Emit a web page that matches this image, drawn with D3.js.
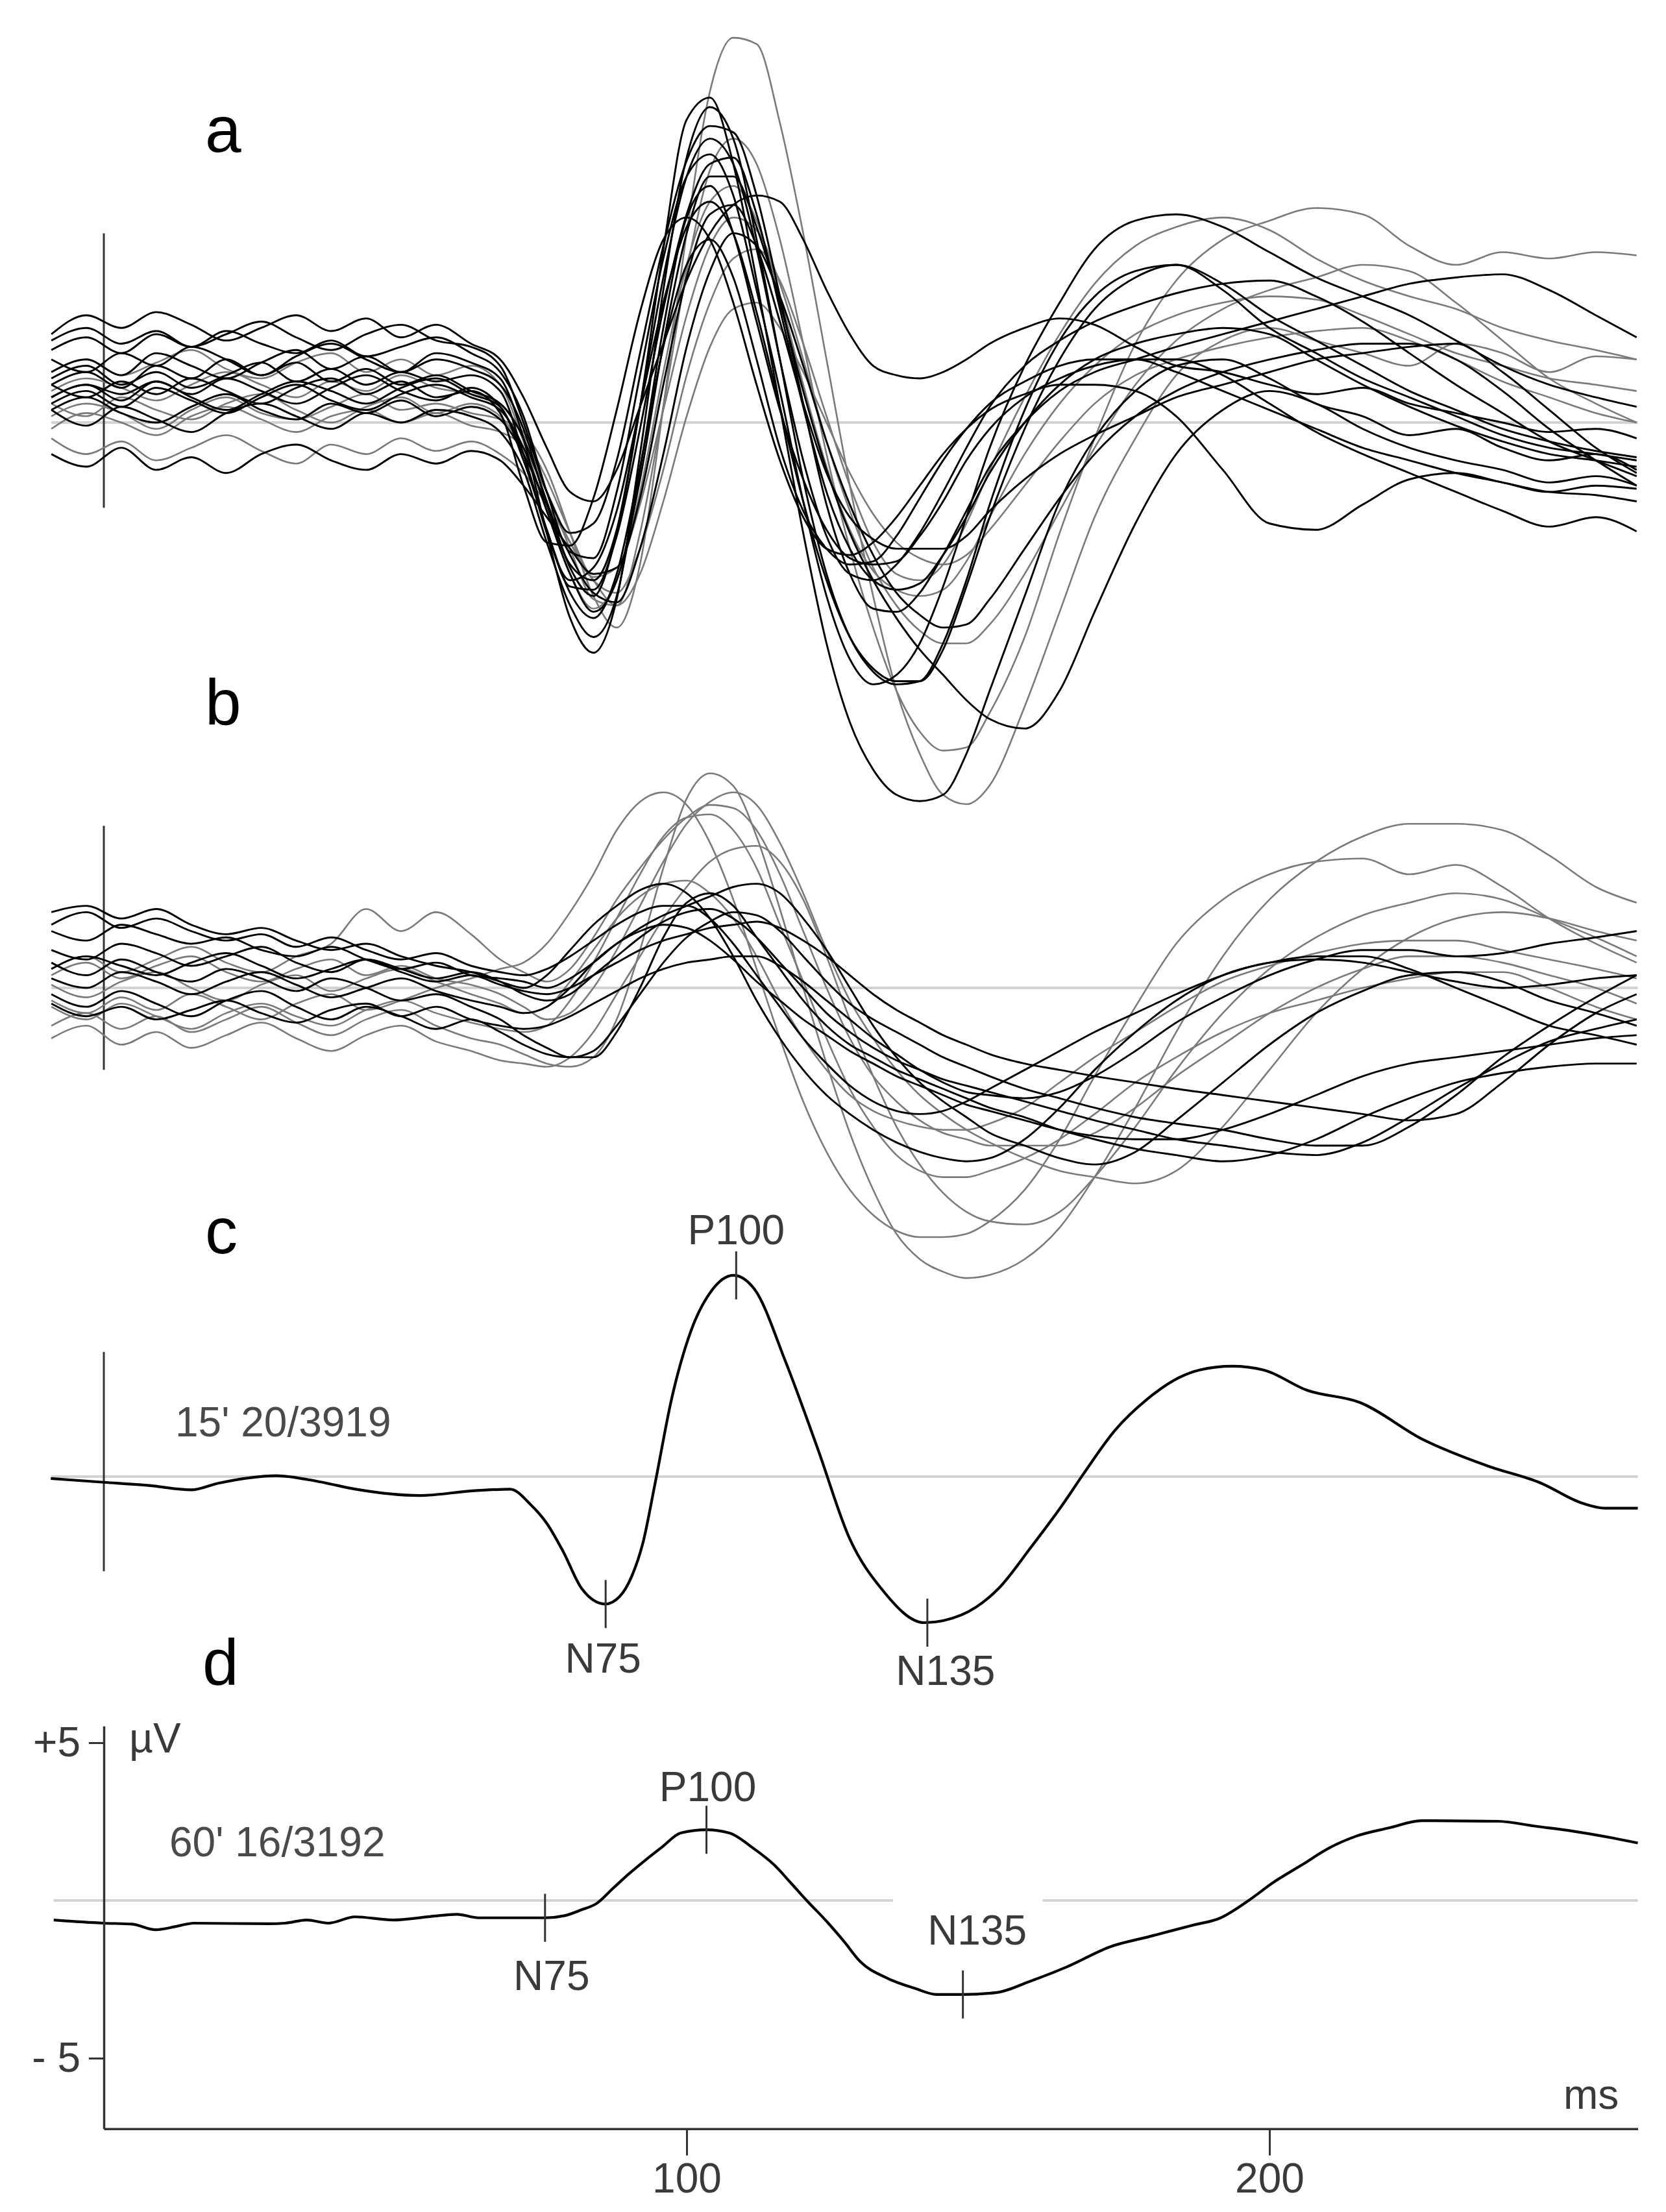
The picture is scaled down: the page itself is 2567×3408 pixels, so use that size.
<!DOCTYPE html>
<html><head><meta charset="utf-8">
<script src="https://cdn.jsdelivr.net/npm/d3@7"></script>
<style>body{margin:0;background:#fff}svg{display:block}</style>
</head><body>
<script>
// ---------- DATA ----------
// shared sample times (ms) for the single-trial traces of panels a and b
const T = [-9,-3,3,9,15,21,27,33,39,45,51,57,63,68,
  72,76,80,84,88,92,96,100,104,108,112,116,120,124,128,132,136,140,144,148,152,
  158,164,170,177,184,192,200,208,216,224,232,240,248,256,263];

// panel a: 20 traces (µV)
const a01 = [1.2,1.6,1.1,1.8,1.4,2.0,1.5,1.9,1.3,1.7,1.2,1.5,1.0,0.6, -0.5,-2.5,-4.6,-5.5,-3.5,0.5,5.5,9.6,10.3,8.2,4.5,0.5,-3.5,-7,-9.5,-11,-11.8,-12,-11.8,-10.5,-8.5, -5.5,-2.5,-0.5,1.0,1.8,2.0,1.4,0.6,0.2,-0.4,-0.2,-0.8,-1.2,-1.0,-1.5];
const a02 = [0.2,0.6,0.3,-0.2,0.4,0.8,0.3,0.1,0.5,0.9,0.4,0.6,0.3,0.1, -0.3,-1.5,-3.5,-5.5,-6.5,-4.5,0.5,6,10.5,12.2,12,9.5,6,2,-2,-5.5,-8.5,-10.5,-11.8,-12.1,-11.5, -9,-6,-3,-0.5,1.5,2.6,3.0,2.6,2.2,1.8,2.5,2.2,1.6,2.1,2.0];
const a03 = [2.3,2.7,2.2,2.8,2.4,2.9,2.5,2.2,2.6,2.1,2.4,2.7,2.2,1.6, 0.2,-2.2,-4.1,-4.3,-2.2,1.5,5.2,7.8,8.5,7.2,4.2,1.0,-2.5,-5.5,-7.5,-8.3,-8.0,-7.0,-5.2,-3.0,-0.8, 1.8,3.8,5.5,6.4,6.6,6.2,5.4,4.6,4.0,3.4,2.6,1.8,1.2,0.8,0.5];
const a04 = [-0.2,0.3,0.0,-0.4,0.2,0.5,0.1,-0.3,0.2,0.4,0.0,0.3,-0.1,-0.3, -0.8,-2.2,-4.0,-5.6,-5.8,-3.5,0.5,4.8,8.0,9.0,8.2,5.8,2.5,-1.0,-4.0,-6.5,-8.5,-9.8,-10.4,-10.3,-9.2, -6.8,-3.5,-0.5,2.5,4.5,5.8,6.4,6.8,6.6,5.6,5.0,5.4,5.2,5.4,5.3];
const a05 = [0.8,1.2,0.7,1.3,0.9,1.4,1.0,0.6,1.1,1.5,1.0,0.7,1.1,0.5, -1.0,-3.5,-5.0,-4.6,-2.8,0.5,3.8,6.2,7.0,6.0,3.5,0.5,-2.5,-5.0,-6.8,-7.8,-8.2,-8.2,-7.2,-5.2,-3.0, -0.2,2.0,3.6,4.6,5.0,4.2,3.0,2.2,1.4,0.8,0.2,-0.4,-0.8,-1.0,-1.2];
const a06 = [2.8,3.4,3.0,3.5,3.1,2.6,3.0,3.4,2.9,3.3,2.7,3.1,2.5,2.0, 0.8,-0.8,-2.2,-2.5,-1.5,0.5,2.5,4.5,6.0,6.9,7.2,7.0,5.8,4.2,2.8,1.8,1.5,1.4,1.6,2.0,2.5, 3.0,3.3,3.1,2.4,1.8,1.6,1.2,0.9,1.1,0.6,0.3,0.0,-0.3,-0.2,-0.5];
const a07 = [0.6,1.0,0.5,1.1,0.7,0.3,0.8,1.2,0.7,0.4,0.9,1.2,0.8,0.4, -0.8,-2.8,-4.8,-6.0,-5.0,-1.8,2.5,6.0,7.8,7.8,6.2,3.8,1.0,-1.5,-3.5,-5.0,-6.2,-7.2,-8.0,-8.8,-9.4, -9.7,-8.5,-6.0,-3.2,-1.0,0.4,1.0,0.6,-0.2,-0.8,-1.2,-1.5,-1.9,-1.7,-2.0];
const a08 = [1.0,1.4,1.1,0.7,1.2,1.6,1.2,0.8,1.3,1.0,1.5,1.1,0.9,0.6, -0.4,-1.8,-3.5,-5.0,-5.4,-4.0,-1.5,1.5,3.8,5.2,5.5,4.5,2.5,0.2,-2.0,-3.8,-4.8,-5.0,-4.5,-3.2,-1.5, 0.8,2.8,4.4,5.6,6.2,6.5,6.1,5.2,4.5,4.0,3.6,3.0,2.6,2.3,2.0];
const a09 = [1.6,2.0,1.5,2.2,1.8,1.4,1.9,2.3,1.7,2.1,1.6,2.0,1.7,1.2, -0.2,-2.6,-4.5,-5.0,-3.4,0.5,4.6,7.8,9.0,8.2,5.5,2.0,-1.2,-3.6,-4.8,-5.0,-4.5,-3.5,-2.2,-0.8,0.5, 1.8,2.6,3.2,3.7,4.1,4.4,4.5,4.0,3.2,2.2,1.2,0.3,-0.6,-1.2,-1.7];
const a10 = [0.4,-0.1,0.5,0.1,-0.3,0.3,0.6,0.2,-0.2,0.3,0.0,0.4,0.2,-0.3, -1.5,-3.8,-5.8,-6.8,-5.5,-1.5,3.0,6.5,7.5,6.0,3.2,0.4,-1.8,-3.4,-4.3,-4.5,-4.4,-3.6,-2.5,-1.2,-0.2, 0.8,1.4,1.8,2.0,2.0,1.5,0.6,-0.3,-1.0,-1.6,-2.2,-2.8,-3.3,-3.0,-3.45];
const a11 = [-0.5,-1.0,-0.6,-1.2,-0.8,-0.4,-0.9,-1.3,-0.7,-1.0,-0.5,-0.9,-0.6,-1.0, -1.6,-2.6,-3.8,-5.0,-5.8,-4.8,-2.5,0.2,2.4,3.6,3.8,3.0,1.6,0.0,-1.6,-2.9,-3.8,-4.3,-4.5,-4.2,-3.4, -2.0,-0.6,0.6,1.5,2.0,2.4,2.7,2.9,3.0,2.6,2.0,1.3,0.8,0.3,0.0];
const a12 = [1.2,0.8,1.3,0.9,1.4,1.0,0.6,1.1,1.4,0.9,1.3,0.8,1.0,0.3, -2.0,-3.8,-3.9,-2.4,0.4,3.5,5.8,6.5,5.8,3.8,1.2,-1.2,-3.0,-4.0,-4.2,-3.8,-3.0,-2.0,-1.0,-0.2,0.4, 0.9,1.2,1.2,1.0,0.2,-1.5,-3.2,-3.4,-2.6,-1.8,-1.6,-1.9,-2.2,-2.0,-2.1];
const a13 = [2.0,1.6,2.2,1.8,2.4,2.0,1.5,2.1,2.5,2.0,1.6,2.2,1.9,1.4, -0.5,-3.5,-6.2,-7.3,-5.6,-1.0,4.2,8.4,10.0,9.0,5.8,2.0,-1.8,-4.8,-6.8,-7.9,-8.3,-8.2,-7.0,-5.0,-2.6, 0.4,2.6,4.0,4.8,5.0,4.4,3.4,2.6,1.8,1.0,0.4,-0.2,-0.6,-0.9,-1.1];
const a14 = [0.6,0.2,0.8,0.4,0.1,0.6,0.9,0.4,0.0,0.5,0.8,0.3,0.6,0.2, -0.8,-2.2,-3.8,-4.9,-4.6,-2.6,0.4,3.4,5.6,6.5,6.1,4.4,2.0,-0.6,-2.8,-4.6,-5.8,-6.6,-7.0,-7.0,-6.4, -4.8,-2.8,-0.8,1.2,2.6,3.6,4.2,4.6,5.0,4.8,3.8,2.6,1.4,0.6,0.0];
const a15 = [1.4,1.8,1.2,1.6,1.1,1.5,1.9,1.3,1.7,1.2,1.6,1.3,1.5,1.0, -1.0,-3.4,-5.2,-5.3,-3.6,-0.2,3.6,6.6,8.2,8.4,6.6,3.6,0.5,-2.2,-4.0,-5.0,-5.3,-5.1,-4.2,-3.0,-1.6, 0.0,1.2,2.0,2.5,2.8,3.0,2.8,2.0,1.2,0.5,-0.1,-0.6,-1.0,-1.2,-1.4];
const a16 = [-1.0,-1.4,-0.8,-1.5,-1.1,-1.6,-1.0,-0.7,-1.2,-1.5,-1.0,-1.3,-0.9,-1.2, -2.0,-3.0,-4.0,-4.8,-4.6,-2.4,1.2,4.6,6.6,6.9,5.6,3.2,0.6,-1.6,-3.0,-3.7,-4.0,-4.0,-4.0,-3.6,-2.8, -1.8,-1.0,-0.4,0.2,0.8,1.2,1.6,2.0,2.2,2.4,2.5,1.6,0.4,-0.8,-1.6];
const a17 = [1.6,2.0,1.5,1.9,2.3,1.7,1.4,1.9,2.2,1.6,2.0,1.5,1.8,1.2, -0.6,-2.8,-4.8,-5.9,-5.0,-2.2,1.6,5.0,7.0,7.5,6.4,4.0,1.2,-1.4,-3.4,-4.7,-5.3,-5.5,-5.3,-4.4,-3.0, -1.0,0.6,1.8,2.8,3.4,3.8,4.0,3.9,3.4,2.8,2.2,1.8,1.4,1.2,1.0];
const a18 = [0.8,1.2,0.9,1.3,0.8,0.4,0.9,1.3,1.0,0.6,1.1,1.4,0.9,0.5, -1.2,-3.4,-5.4,-6.2,-4.8,-1.4,2.4,5.0,5.8,4.6,2.0,-0.8,-2.8,-4.0,-4.5,-4.4,-3.6,-2.4,-1.2,-0.2,0.6, 1.3,1.8,2.0,2.0,1.6,1.0,0.4,-0.2,-0.8,-1.2,-1.6,-1.9,-2.2,-2.3,-2.5];
const a19 = [2.6,3.0,2.5,2.9,2.4,2.8,3.2,2.7,2.3,2.8,3.1,2.6,2.4,1.8, 0.0,-2.2,-3.5,-3.2,-1.2,2.2,5.6,8.3,9.4,9.2,7.2,4.0,0.6,-2.6,-4.8,-5.9,-6.0,-5.4,-4.2,-2.8,-1.4, 0.0,1.0,1.6,2.0,2.4,2.8,3.2,3.6,4.0,4.4,4.6,4.7,4.2,3.4,2.7];
const a20 = [0.4,0.8,0.3,0.0,0.5,0.9,0.4,0.1,0.6,0.3,0.7,0.2,0.5,0.1, -1.0,-2.6,-4.2,-5.4,-5.7,-4.0,-1.0,2.4,4.8,6.0,5.6,4.0,1.8,-0.6,-2.6,-4.2,-5.4,-6.1,-6.5,-6.4,-5.6, -4.0,-2.4,-1.0,0.2,1.0,1.6,2.0,2.3,2.5,2.5,2.0,1.0,-0.2,-1.2,-2.0];
const aShade = ['black','grey','black','grey','black','black','black','grey','black','black','grey','black','black','grey','black','black','grey','black','black','black'];

// panel b: 16 traces (µV)
const b01 = [-1.2,-0.8,-1.3,-0.9,-1.4,-1.0,-0.6,-1.1,-1.5,-1.0,-0.7,-1.2,-1.6,-1.8, -2.1,-2.4,-2.5,-2.2,-1.0,1.2,3.8,6.0,6.8,6.4,4.8,2.5,0.0,-2.4,-4.6,-6.4,-7.8,-8.6,-9.0,-9.2,-9.1, -8.6,-7.6,-6.0,-3.8,-1.4,1.0,2.8,4.0,4.8,5.2,5.2,5.0,4.2,3.2,2.7];
const b02 = [-0.4,-0.8,-0.3,-0.7,-0.2,-0.6,-1.0,-0.5,-0.2,-0.7,-0.4,0.0,0.3,0.6, 0.8,1.4,2.4,3.6,5.0,5.9,6.2,5.8,4.6,2.8,0.6,-1.6,-3.6,-5.2,-6.4,-7.2,-7.7,-7.9,-7.9,-7.8,-7.4, -6.4,-4.8,-2.8,-0.6,1.4,2.8,3.6,4.0,4.1,3.6,3.9,3.2,2.2,1.4,0.8];
const b03 = [0.4,0.8,0.3,0.7,1.0,0.5,0.2,0.6,0.9,0.4,0.7,0.3,0.1,-0.2, -0.6,-1.0,-0.8,0.0,1.2,2.6,4.0,5.2,5.9,6.2,5.8,4.6,3.0,1.2,-0.4,-1.6,-2.6,-3.4,-4.0,-4.5,-4.9, -5.4,-5.8,-6.0,-6.2,-5.8,-4.4,-2.6,-0.8,0.6,1.6,2.2,2.4,2.2,1.8,1.5];
const b04 = [-0.6,-1.0,-0.5,-0.9,-1.3,-0.8,-0.5,-0.9,-1.2,-0.7,-0.4,-0.8,-1.1,-1.3, -1.4,-1.2,-0.4,0.8,2.2,3.6,4.8,5.4,5.5,5.0,3.8,2.0,0.2,-1.6,-3.2,-4.4,-5.3,-5.8,-6.0,-6.0,-5.8, -5.4,-4.8,-4.0,-3.0,-2.2,-1.4,-0.8,-0.4,0.0,0.3,0.5,0.5,0.0,-0.6,-1.0];
const b05 = [0.1,-0.3,0.2,0.5,0.0,-0.4,0.1,0.4,-0.1,0.3,0.6,0.2,-0.2,-0.5, -0.8,-0.6,0.2,1.2,2.2,2.9,3.3,3.4,3.0,2.2,1.0,-0.4,-1.6,-2.6,-3.4,-3.9,-4.2,-4.4,-4.5,-4.5,-4.3, -3.8,-3.0,-2.2,-1.4,-0.6,0.2,0.7,1.1,1.4,1.5,1.5,1.2,0.9,0.6,0.3];
const b06 = [-1.6,-1.2,-1.8,-1.4,-1.9,-1.5,-1.1,-1.6,-2.0,-1.5,-1.2,-1.7,-2.0,-2.3, -2.4,-2.5,-2.2,-1.4,-0.2,1.0,2.2,3.2,4.0,4.4,4.5,4.0,2.8,1.0,-1.0,-2.8,-4.4,-5.6,-6.5,-7.1,-7.4, -7.5,-7.1,-6.0,-4.4,-2.6,-0.8,0.6,1.6,2.3,2.7,3.0,2.8,2.2,1.6,1.0];
const b07 = [0.6,1.0,0.5,0.9,1.3,0.8,0.5,1.0,1.4,2.5,1.8,2.4,1.7,0.9, 0.5,0.2,0.6,1.6,2.8,3.8,4.7,5.4,5.8,5.7,5.0,3.6,1.8,0.0,-1.6,-2.8,-3.6,-4.2,-4.6,-4.8,-5.0, -5.0,-5.0,-4.6,-3.8,-2.8,-1.8,-0.8,0.0,0.6,1.0,1.0,0.8,0.4,0.0,-0.5];
const b08 = [2.4,2.6,2.2,2.5,2.0,1.7,1.9,1.5,1.2,1.4,1.0,0.7,0.5,0.2, 0.0,0.4,1.2,2.0,2.6,3.1,3.3,3.0,2.2,1.0,-0.4,-1.6,-2.6,-3.4,-4.0,-4.5,-4.9,-5.2,-5.4,-5.5,-5.4, -4.8,-3.8,-2.6,-1.4,-0.4,0.4,0.8,1.0,1.0,0.6,0.0,-0.6,-1.2,-1.5,-1.8];
const b09 = [1.8,1.5,2.0,1.7,1.4,1.6,1.2,1.0,1.3,0.9,0.6,0.8,0.4,0.3, 0.2,0.0,0.3,0.8,1.4,1.9,2.3,2.6,2.9,3.2,3.3,3.0,2.2,1.2,0.0,-1.2,-2.2,-3.0,-3.6,-4.1,-4.6, -5.0,-5.4,-5.6,-5.2,-4.2,-3.0,-1.8,-0.8,-0.1,0.4,0.5,0.2,-0.4,-0.8,-1.2];
const b10 = [0.8,0.4,0.9,0.5,0.2,0.6,0.3,-0.1,0.3,0.0,-0.4,-0.2,-0.6,-1.0, -1.5,-1.9,-2.2,-2.2,-1.4,0.0,1.6,2.7,3.0,2.6,1.6,0.6,-0.4,-1.2,-1.8,-2.2,-2.6,-2.9,-3.2,-3.5,-3.8, -4.1,-4.5,-4.8,-5.1,-5.3,-5.5,-5.3,-4.8,-4.1,-3.5,-3.0,-2.7,-2.5,-2.4,-2.4];
const b11 = [1.2,0.9,1.4,1.1,0.7,1.0,1.3,0.8,0.5,0.9,0.6,0.3,0.5,0.2, -0.2,-0.4,-0.2,0.4,1.0,1.6,2.1,2.4,2.5,2.2,1.6,0.8,0.0,-0.8,-1.4,-1.9,-2.3,-2.6,-2.9,-3.1,-3.3, -3.6,-3.9,-4.2,-4.5,-4.8,-5.0,-5.2,-5.3,-4.9,-4.1,-3.2,-2.4,-1.7,-1.3,-1.0];
const b12 = [-0.2,-0.6,-0.1,-0.5,-0.9,-0.4,-0.1,-0.6,-1.0,-0.6,-0.9,-1.3,-1.0,-1.4, -1.8,-2.1,-2.2,-2.0,-1.2,-0.2,0.8,1.6,2.1,2.4,2.3,1.8,1.0,0.2,-0.5,-1.0,-1.4,-1.8,-2.2,-2.5,-2.8, -3.2,-3.5,-3.8,-4.1,-4.3,-4.5,-4.8,-5.0,-5.0,-4.4,-3.4,-2.2,-1.2,-0.3,0.4];
const b13 = [0.6,1.0,0.7,0.4,0.8,1.1,0.7,0.3,0.6,0.9,0.5,0.2,0.4,0.1, -0.1,-0.2,0.0,0.4,0.8,1.2,1.5,1.7,1.9,2.0,2.1,1.9,1.5,1.0,0.4,-0.2,-0.7,-1.1,-1.5,-1.8,-2.1, -2.4,-2.6,-2.8,-3.0,-3.2,-3.4,-3.6,-3.8,-4.0,-4.2,-4.0,-3.0,-1.8,-0.8,-0.2];
const b14 = [-0.5,-0.9,-0.6,-1.0,-0.7,-0.4,-0.8,-1.1,-0.7,-0.5,-0.9,-0.6,-1.0,-1.2, -1.3,-1.2,-0.9,-0.5,-0.1,0.3,0.6,0.8,0.9,1.0,1.0,0.7,0.2,-0.4,-1.0,-1.6,-2.1,-2.6,-3.0,-3.3,-3.4, -3.5,-3.3,-2.8,-2.0,-1.1,-0.3,0.4,0.9,1.2,1.2,1.0,1.1,1.4,1.6,1.8];
const b15 = [2.0,2.4,1.9,2.2,1.8,1.5,1.7,1.3,1.6,1.2,0.9,1.1,0.7,0.5, 0.4,0.6,1.0,1.5,2.0,2.4,2.6,2.6,2.2,1.4,0.4,-0.6,-1.6,-2.4,-3.1,-3.6,-3.9,-4.0,-3.9,-3.6,-3.2, -2.6,-2.0,-1.4,-0.8,-0.2,0.4,0.8,0.9,0.8,0.5,0.2,0.0,0.1,0.3,0.4];
const b16 = [0.3,0.0,0.5,0.2,-0.2,0.2,0.5,0.1,-0.3,0.0,0.3,-0.1,-0.4,-0.6, -0.8,-0.6,0.0,0.8,1.4,1.8,2.0,1.9,1.5,0.9,0.2,-0.4,-1.0,-1.5,-2.0,-2.4,-2.8,-3.1,-3.4,-3.7,-3.9, -4.2,-4.5,-4.7,-4.8,-4.8,-4.5,-4.0,-3.4,-2.8,-2.4,-2.2,-2.0,-1.8,-1.6,-1.5];
const bShade = ['grey','grey','grey','grey','grey','grey','grey','black','black','black','black','black','black','black','black','black'];

// panel c: grand average 15' (ms, µV)
const cTime = [-9.1,0,7.7,15,19.6,29.6,36.9,43.2,54.2,63.3,69.7,73.3,76,78.8,82,86,88.5,90.6,92.5,94.6,97.4,100.7,104.3,108,111.6,117,122.5,128,133.4,140.8,147.2,153.5,159,164.5,168.1,173.5,179,184.5,188,193.6,199,206.4,215.5,226.4,237.4,246.5,253.8,257.5,263.2];
const cVolt = [-0.06,-0.18,-0.28,-0.42,-0.21,0.03,-0.16,-0.4,-0.6,-0.45,-0.4,-0.9,-1.48,-2.37,-3.55,-4.04,-3.8,-3.15,-2.1,-0.2,2.45,4.6,5.9,6.38,5.95,3.63,0.88,-1.98,-3.55,-4.63,-4.38,-3.55,-2.26,-0.89,0.09,1.47,2.45,3.14,3.38,3.5,3.38,2.74,2.35,1.17,0.34,-0.2,-0.85,-1.0,-1.0];
const cPeakNames = ['N75','P100','N135'];
const cPeakTimes = [86.1,108.5,141.3];
const cPeakVolts = [-4.04,6.38,-4.63];
const cCaption = "15' 20/3919";

// panel d: grand average 60' (ms, µV)
const dTime = [-8.6,0,4.8,8.9,12.7,15.4,28.3,31.1,34.8,38.5,43.1,49.6,56,60.6,64.3,75.7,79.1,81.9,84.6,87.4,90.2,93,95.7,99,103.4,107.3,111.4,115,117.9,120.7,124.2,127,129.8,134.5,139.2,142.9,147.4,153.2,158.8,165.3,172.8,179.3,186.9,191.5,196.2,200.9,205.6,210.2,214.9,220.5,226.1,239.2,245.8,252.3,258.9,263.2];
const dVolt = [-0.62,-0.72,-0.75,-0.93,-0.81,-0.72,-0.74,-0.72,-0.62,-0.72,-0.52,-0.62,-0.51,-0.44,-0.55,-0.55,-0.48,-0.3,-0.09,0.39,0.86,1.29,1.68,2.14,2.24,2.14,1.66,1.13,0.55,-0.02,-0.7,-1.3,-1.94,-2.47,-2.79,-2.98,-2.98,-2.92,-2.57,-2.1,-1.46,-1.15,-0.78,-0.56,-0.03,0.6,1.13,1.66,2.04,2.3,2.53,2.51,2.35,2.19,1.98,1.82];
const dPeakNames = ['N75','P100','N135'];
const dPeakTimes = [75.7,103.4,147.4];
const dPeakVolts = [-0.55,2.24,-2.98];
const dCaption = "60' 16/3192";

const panelLetters = ['a','b','c','d'];
const xTickValues = [100,200];
const yTickValues = [5,-5];
const xUnit = 'ms';
const yUnit = 'µV';

// ---------- DRAWING ----------
const W = 2567, H = 3408;
const FONT = "'Liberation Sans', Arial, 'DejaVu Sans', sans-serif";
const svg = d3.select('body').append('svg').attr('width', W).attr('height', H);
svg.append('rect').attr('width', W).attr('height', H).attr('fill', '#fff');

const tMin = -9, tMax = 263.2;
const x = d3.scaleLinear().domain([0, 200]).range([160, 1956]);
const PX_PER_UV = 48.6;
const yScale = zero => d3.scaleLinear().domain([-5, 5]).range([zero + 5 * PX_PER_UV, zero - 5 * PX_PER_UV]);
const yA = yScale(651), yB = yScale(1522), yC = yScale(2275), yD = yScale(2928);

const GREYLINE = '#d2d2d2', AXIS = '#333', TXT = '#3a3a3a';

function baseline(y, segments) {
  segments.forEach(([t0, t1]) => {
    svg.append('line').attr('x1', x(t0)).attr('x2', x(t1))
      .attr('y1', y(0)).attr('y2', y(0))
      .attr('stroke', GREYLINE).attr('stroke-width', 4);
  });
}
function onsetLine(y, top, bottom) {
  svg.append('line').attr('x1', x(0)).attr('x2', x(0))
    .attr('y1', y(top)).attr('y2', y(bottom))
    .attr('stroke', AXIS).attr('stroke-width', 3);
}
function traces(y, list, shades) {
  const line = d3.line().x((v, i) => x(T[i])).y(v => y(v)).curve(d3.curveMonotoneX);
  const order = d3.range(list.length).sort((i, j) => (shades[i] === 'grey' ? 0 : 1) - (shades[j] === 'grey' ? 0 : 1));
  order.forEach(i => {
    svg.append('path').attr('d', line(list[i].slice(0, T.length)))
      .attr('fill', 'none')
      .attr('stroke', shades[i] === 'grey' ? '#7a7a7a' : '#000')
      .attr('stroke-width', shades[i] === 'grey' ? 2.6 : 2.9)
      .attr('stroke-linejoin', 'round');
  });
}
function average(y, times, volts) {
  const line = d3.line().x((d, i) => x(times[i])).y(d => y(d)).curve(d3.curveMonotoneX);
  svg.append('path').attr('d', line(volts)).attr('fill', 'none')
    .attr('stroke', '#000').attr('stroke-width', 4.2).attr('stroke-linejoin', 'round');
}
function markers(y, names, times, volts, placement) {
  names.forEach((n, i) => {
    const cx = x(times[i]), cy = y(volts[i]);
    svg.append('line').attr('x1', cx).attr('x2', cx).attr('y1', cy - 37).attr('y2', cy + 37)
      .attr('stroke', AXIS).attr('stroke-width', 3);
    const p = placement[i];
    svg.append('text').attr('x', cx + p[0]).attr('y', cy + p[1])
      .attr('text-anchor', 'middle').attr('font-family', FONT).attr('font-size', 64)
      .attr('fill', TXT).text(n);
  });
}
function letter(txt, px, py) {
  svg.append('text').attr('x', px).attr('y', py).attr('font-family', FONT)
    .attr('font-size', 100).attr('fill', '#000').text(txt);
}

// panel a
letter(panelLetters[0], 316, 234);
baseline(yA, [[tMin, tMax]]);
onsetLine(yA, 6.0, -2.7);
traces(yA, [a01,a02,a03,a04,a05,a06,a07,a08,a09,a10,a11,a12,a13,a14,a15,a16,a17,a18,a19,a20], aShade);

// panel b
letter(panelLetters[1], 316, 1117);
baseline(yB, [[tMin, tMax]]);
onsetLine(yB, 5.14, -2.6);
traces(yB, [b01,b02,b03,b04,b05,b06,b07,b08,b09,b10,b11,b12,b13,b14,b15,b16], bShade);

// panel c
letter(panelLetters[2], 316, 1931);
baseline(yC, [[tMin, tMax]]);
onsetLine(yC, 3.95, -3.0);
average(yC, cTime, cVolt);
markers(yC, cPeakNames, cPeakTimes, cPeakVolts, [[-4, 106], [0, -48], [28, 96]]);
svg.append('text').attr('x', 270).attr('y', 2213).attr('font-family', FONT)
  .attr('font-size', 64).attr('fill', '#4a4a4a').text(cCaption);

// panel d
letter(panelLetters[3], 312, 2596);
baseline(yD, [[-8.6, 135.4], [161.1, tMax]]);
average(yD, dTime, dVolt);
markers(yD, dPeakNames, dPeakTimes, dPeakVolts, [[10, 111], [2, -44], [22, -77]]);
svg.append('text').attr('x', 261).attr('y', 2860).attr('font-family', FONT)
  .attr('font-size', 64).attr('fill', '#4a4a4a').text(dCaption);

// axes of panel d
const yTop = 5.53, yBottom = -7.24;
const xAx = d3.scaleLinear().domain([0, tMax]).range([x(0), x(tMax)]);
const gx = svg.append('g').attr('transform', `translate(0,${yD(yBottom)})`)
  .call(d3.axisBottom(xAx).tickValues(xTickValues).tickSize(41).tickSizeOuter(0).tickPadding(12).tickFormat(d3.format('d')));
const yAx = d3.scaleLinear().domain([yBottom, yTop]).range([yD(yBottom), yD(yTop)]);
const gy = svg.append('g').attr('transform', `translate(${x(0)},0)`)
  .call(d3.axisLeft(yAx).tickValues(yTickValues).tickSize(23).tickSizeOuter(0).tickPadding(13)
    .tickFormat(d => d > 0 ? '+5' : '- 5'));
[gx, gy].forEach(g => {
  g.select('.domain').attr('stroke', AXIS).attr('stroke-width', 3.5);
  g.selectAll('.tick line').attr('stroke', AXIS).attr('stroke-width', 3);
  g.selectAll('.tick text').attr('font-family', FONT).attr('font-size', 64).attr('fill', TXT);
});
svg.append('text').attr('x', 199).attr('y', 2700).attr('font-family', FONT)
  .attr('font-size', 64).attr('fill', TXT).text(yUnit);
svg.append('text').attr('x', 2409).attr('y', 3249).attr('font-family', FONT)
  .attr('font-size', 64).attr('fill', TXT).text(xUnit);
</script>
</body></html>
